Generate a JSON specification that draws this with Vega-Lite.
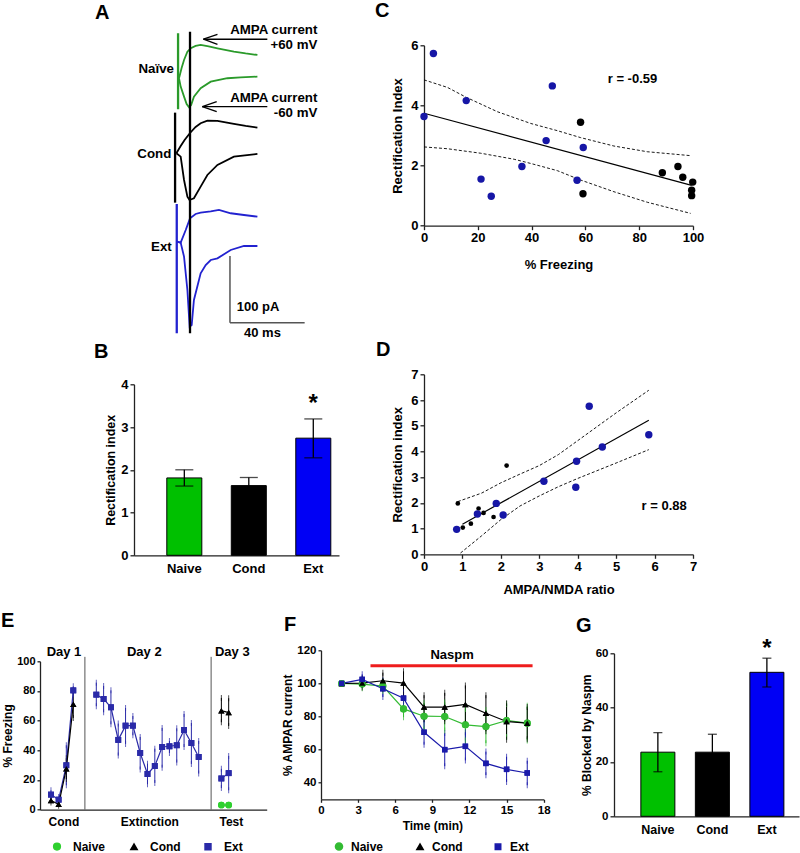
{
"$schema": "https://vega.github.io/schema/vega-lite/v6.json",
"autosize": {"type": "none"},
"padding": {"left": 40, "top": 45.3, "right": 760, "bottom": 807.7},
"background": "white",
"config": {
  "font": "Liberation Sans",
  "view": {"stroke": null},
  "axis": {"labelFont": "Liberation Sans", "titleFont": "Liberation Sans", "labelFontWeight": "bold", "titleFontWeight": "bold", "labelFontSize": 13, "titleFontSize": 13, "labelColor": "#000", "titleColor": "#000", "domainColor": "#222", "tickColor": "#222", "domainWidth": 1.3, "tickWidth": 1.3, "tickSize": 4, "grid": false, "labelPadding": 2, "labelFlush": false, "labelOverlap": false},
  "title": {"font": "Liberation Sans", "fontSize": 20, "fontWeight": "bold", "anchor": "start", "frame": "group", "color": "#000"},
  "text": {"font": "Liberation Sans", "fontWeight": "bold", "fontSize": 13, "color": "#000"}
},
"datasets": {
  "none": [],
  "E": [
    {"x":1.5,"g":"Ext","d":1,"m":10.1,"lo":7.2,"hi":13.0},
    {"x":2.55,"g":"Ext","d":1,"m":6.7,"lo":4.9,"hi":8.5},
    {"x":3.6,"g":"Ext","d":1,"m":29.9,"lo":16.4,"hi":43.4},
    {"x":4.55,"g":"Ext","d":1,"m":80.4,"lo":77.8,"hi":83.1},
    {"x":1.5,"g":"Cond","d":1,"m":6.1,"lo":4.8,"hi":7.4},
    {"x":2.55,"g":"Cond","d":1,"m":3.6,"lo":2.6,"hi":4.6},
    {"x":3.6,"g":"Cond","d":1,"m":27.6,"lo":20.6,"hi":34.6},
    {"x":4.55,"g":"Cond","d":1,"m":71.0,"lo":61.8,"hi":80.2},
    {"x":7.7,"g":"Ext","d":2,"m":77.5,"lo":69.7,"hi":85.6},
    {"x":8.7,"g":"Ext","d":2,"m":74.6,"lo":65.6,"hi":83.4},
    {"x":9.7,"g":"Ext","d":2,"m":69.0,"lo":57.5,"hi":80.4},
    {"x":10.7,"g":"Ext","d":2,"m":47.0,"lo":36.4,"hi":58.0},
    {"x":11.7,"g":"Ext","d":2,"m":56.6,"lo":44.3,"hi":68.5},
    {"x":12.7,"g":"Ext","d":2,"m":56.6,"lo":50.1,"hi":63.1},
    {"x":13.7,"g":"Ext","d":2,"m":38.2,"lo":27.0,"hi":49.0},
    {"x":14.7,"g":"Ext","d":2,"m":24.0,"lo":17.1,"hi":31.0},
    {"x":15.7,"g":"Ext","d":2,"m":29.4,"lo":18.0,"hi":41.1},
    {"x":16.7,"g":"Ext","d":2,"m":42.2,"lo":28.3,"hi":55.1},
    {"x":17.7,"g":"Ext","d":2,"m":42.7,"lo":38.2,"hi":46.3},
    {"x":18.7,"g":"Ext","d":2,"m":43.4,"lo":31.7,"hi":54.8},
    {"x":19.7,"g":"Ext","d":2,"m":53.7,"lo":42.2,"hi":64.5},
    {"x":20.7,"g":"Ext","d":2,"m":44.9,"lo":30.8,"hi":58.4},
    {"x":21.7,"g":"Ext","d":2,"m":35.5,"lo":24.3,"hi":46.3},
    {"x":24.8,"g":"Ext","d":3,"m":21.0,"lo":14.5,"hi":27.5},
    {"x":25.8,"g":"Ext","d":3,"m":24.6,"lo":13.0,"hi":36.2},
    {"x":24.8,"g":"Cond","d":3,"m":66.7,"lo":58.9,"hi":75.3},
    {"x":25.8,"g":"Cond","d":3,"m":65.4,"lo":56.4,"hi":75.1},
    {"x":24.8,"g":"Naive","d":3,"m":3.1},
    {"x":25.8,"g":"Naive","d":3,"m":3.1}
  ],
  "F": [
    {"t":1.67,"g":"Naive","m":100,"lo":100,"hi":100},
    {"t":3.33,"g":"Naive","m":99.6,"lo":97.1,"hi":102.1},
    {"t":5,"g":"Naive","m":98.4,"lo":95.4,"hi":101.4},
    {"t":6.67,"g":"Naive","m":84.6,"lo":79.6,"hi":89.6},
    {"t":8.33,"g":"Naive","m":80.2,"lo":72.2,"hi":88.2},
    {"t":10,"g":"Naive","m":80.0,"lo":71.5,"hi":88.5},
    {"t":11.67,"g":"Naive","m":75.0,"lo":65.5,"hi":84.5},
    {"t":13.33,"g":"Naive","m":73.9,"lo":63.9,"hi":83.9},
    {"t":15,"g":"Naive","m":77.6,"lo":67.6,"hi":87.6},
    {"t":16.67,"g":"Naive","m":76.0,"lo":65.5,"hi":86.5},
    {"t":1.67,"g":"Cond","m":100,"lo":100,"hi":100},
    {"t":3.33,"g":"Cond","m":100.2,"lo":97.5,"hi":102.9},
    {"t":5,"g":"Cond","m":101.6,"lo":96.7,"hi":106.5},
    {"t":6.67,"g":"Cond","m":100.2,"lo":93.1,"hi":107.3},
    {"t":8.33,"g":"Cond","m":85.7,"lo":78.5,"hi":92.9},
    {"t":10,"g":"Cond","m":85.7,"lo":77.1,"hi":94.3},
    {"t":11.67,"g":"Cond","m":87.3,"lo":75.8,"hi":98.8},
    {"t":13.33,"g":"Cond","m":82.0,"lo":71.1,"hi":92.9},
    {"t":15,"g":"Cond","m":77.0,"lo":66.0,"hi":88.0},
    {"t":16.67,"g":"Cond","m":76.0,"lo":66.3,"hi":85.7},
    {"t":1.67,"g":"Ext","m":100,"lo":100,"hi":100},
    {"t":3.33,"g":"Ext","m":102.4,"lo":99.3,"hi":105.5},
    {"t":5,"g":"Ext","m":96.8,"lo":91.8,"hi":101.8},
    {"t":6.67,"g":"Ext","m":91.1,"lo":87.5,"hi":94.7},
    {"t":8.33,"g":"Ext","m":70.5,"lo":63.0,"hi":78.0},
    {"t":10,"g":"Ext","m":60.0,"lo":50.0,"hi":70.0},
    {"t":11.67,"g":"Ext","m":62.0,"lo":53.5,"hi":70.5},
    {"t":13.33,"g":"Ext","m":51.7,"lo":44.6,"hi":58.8},
    {"t":15,"g":"Ext","m":48.1,"lo":40.5,"hi":55.7},
    {"t":16.67,"g":"Ext","m":45.9,"lo":38.5,"hi":53.3}
  ]
},
"spacing": 0,
"bounds": "flush",
"resolve": {"scale": {"color": "independent", "shape": "independent", "size": "independent"}, "legend": {"color": "independent", "shape": "independent", "size": "independent"}},
"vconcat": [
 {
  "spacing": 0,
  "bounds": "flush",
  "resolve": {"scale": {"color": "independent", "shape": "independent", "size": "independent"}, "legend": {"color": "independent", "shape": "independent", "size": "independent"}},
  "hconcat": [
   {"width": 93.3, "height": 1, "data": {"name": "none"}, "mark": "point", "encoding": {}},
   {
    "spacing": 0,
    "bounds": "flush",
    "resolve": {"scale": {"color": "independent", "shape": "independent", "size": "independent"}, "legend": {"color": "independent", "shape": "independent", "size": "independent"}},
    "vconcat": [
     {
      "title": {"text": "A", "dx": -39, "offset": -0.5},
      "width": 205, "height": 289.7,
      "encoding": {
        "x": {"field": "ms", "type": "quantitative", "scale": {"domain": [0, 109.8], "nice": false, "zero": false}, "axis": null},
        "y": {"field": "pA", "type": "quantitative", "scale": {"domain": [0, 434.5], "nice": false, "zero": false}, "axis": null}
      },
      "layer": [
        {"data": {"values": [
          {"grp":"Naive","v":"+60","ms":24.1,"pA":385.1},{"grp":"Naive","v":"+60","ms":25.5,"pA":400.5},{"grp":"Naive","v":"+60","ms":26.8,"pA":412.5},{"grp":"Naive","v":"+60","ms":28.6,"pA":425},{"grp":"Naive","v":"+60","ms":30.4,"pA":430},{"grp":"Naive","v":"+60","ms":33.0,"pA":433.5},{"grp":"Naive","v":"+60","ms":35.7,"pA":435},{"grp":"Naive","v":"+60","ms":40.0,"pA":432.8},{"grp":"Naive","v":"+60","ms":44.7,"pA":430},{"grp":"Naive","v":"+60","ms":53.5,"pA":425},{"grp":"Naive","v":"+60","ms":59.8,"pA":422.3},{"grp":"Naive","v":"+60","ms":66.1,"pA":420},
          {"grp":"Naive","v":"-60","ms":24.1,"pA":385.1},{"grp":"Naive","v":"-60","ms":25.0,"pA":372.5},{"grp":"Naive","v":"-60","ms":26.8,"pA":357.5},{"grp":"Naive","v":"-60","ms":28.2,"pA":346.5},{"grp":"Naive","v":"-60","ms":29.5,"pA":341.6},{"grp":"Naive","v":"-60","ms":30.6,"pA":345},{"grp":"Naive","v":"-60","ms":32.1,"pA":357.5},{"grp":"Naive","v":"-60","ms":35.7,"pA":370.1},{"grp":"Naive","v":"-60","ms":41.1,"pA":380},{"grp":"Naive","v":"-60","ms":50.0,"pA":385.1},{"grp":"Naive","v":"-60","ms":57.1,"pA":386.3},{"grp":"Naive","v":"-60","ms":66.1,"pA":387.5},
          {"grp":"Cond","v":"+60","ms":22.7,"pA":272.6},{"grp":"Cond","v":"+60","ms":25.0,"pA":283.5},{"grp":"Cond","v":"+60","ms":27.1,"pA":292.5},{"grp":"Cond","v":"+60","ms":30.0,"pA":303},{"grp":"Cond","v":"+60","ms":33.0,"pA":312},{"grp":"Cond","v":"+60","ms":35.7,"pA":317.6},{"grp":"Cond","v":"+60","ms":39.3,"pA":321.5},{"grp":"Cond","v":"+60","ms":44.7,"pA":321},{"grp":"Cond","v":"+60","ms":53.5,"pA":316.5},{"grp":"Cond","v":"+60","ms":59.8,"pA":313.5},{"grp":"Cond","v":"+60","ms":66.1,"pA":311},
          {"grp":"Cond","v":"-60","ms":22.7,"pA":272.6},{"grp":"Cond","v":"-60","ms":25.0,"pA":267.5},{"grp":"Cond","v":"-60","ms":26.8,"pA":232.5},{"grp":"Cond","v":"-60","ms":28.6,"pA":207.5},{"grp":"Cond","v":"-60","ms":29.7,"pA":202.5},{"grp":"Cond","v":"-60","ms":32.1,"pA":205},{"grp":"Cond","v":"-60","ms":35.7,"pA":222.5},{"grp":"Cond","v":"-60","ms":39.3,"pA":240},{"grp":"Cond","v":"-60","ms":44.7,"pA":255},{"grp":"Cond","v":"-60","ms":53.5,"pA":267.5},{"grp":"Cond","v":"-60","ms":66.1,"pA":271.5},
          {"grp":"Ext","v":"+60","ms":22.9,"pA":140},{"grp":"Ext","v":"+60","ms":25.0,"pA":138.5},{"grp":"Ext","v":"+60","ms":27.7,"pA":157.5},{"grp":"Ext","v":"+60","ms":30.0,"pA":175},{"grp":"Ext","v":"+60","ms":33.0,"pA":181.5},{"grp":"Ext","v":"+60","ms":35.7,"pA":183.5},{"grp":"Ext","v":"+60","ms":41.1,"pA":185.3},{"grp":"Ext","v":"+60","ms":45.5,"pA":187.5},{"grp":"Ext","v":"+60","ms":51.8,"pA":182.6},{"grp":"Ext","v":"+60","ms":58.9,"pA":180},{"grp":"Ext","v":"+60","ms":66.1,"pA":177.5},
          {"grp":"Ext","v":"-60","ms":22.9,"pA":140},{"grp":"Ext","v":"-60","ms":25.0,"pA":138.5},{"grp":"Ext","v":"-60","ms":26.8,"pA":117.5},{"grp":"Ext","v":"-60","ms":28.6,"pA":67.5},{"grp":"Ext","v":"-60","ms":29.8,"pA":12.5},{"grp":"Ext","v":"-60","ms":30.9,"pA":15},{"grp":"Ext","v":"-60","ms":32.1,"pA":52.5},{"grp":"Ext","v":"-60","ms":35.7,"pA":92.6},{"grp":"Ext","v":"-60","ms":38.4,"pA":105},{"grp":"Ext","v":"-60","ms":41.1,"pA":112.5},{"grp":"Ext","v":"-60","ms":44.7,"pA":115},{"grp":"Ext","v":"-60","ms":51.8,"pA":127.5},{"grp":"Ext","v":"-60","ms":58.9,"pA":133.5},{"grp":"Ext","v":"-60","ms":66.1,"pA":133.5}
        ]},
        "mark": {"type": "line", "strokeWidth": 1.8},
        "encoding": {"color": {"field": "grp", "type": "nominal", "scale": {"domain": ["Naive", "Cond", "Ext"], "range": ["#2a9a2a", "#000000", "#2222d0"]}, "legend": null}, "detail": {"field": "v"}}},
        {"data": {"values": [
          {"grp":"Naive","ms":23.6,"pA":338.6,"ms2":23.6,"pA2":452.6},
          {"grp":"Cond","ms":22.0,"pA":198.5,"ms2":22.0,"pA2":333.5},
          {"grp":"Ext","ms":22.9,"pA":2.6,"ms2":22.9,"pA2":196.5},
          {"grp":"Cond","ms":30.0,"pA":2.6,"ms2":30.0,"pA2":455}
        ]},
        "mark": {"type": "rule", "strokeWidth": 2.3},
        "encoding": {"x2": {"field": "ms2"}, "y2": {"field": "pA2"}, "color": {"field": "grp", "type": "nominal", "legend": null}}},
        {"data": {"values": [
          {"ms":51.4,"pA":18.5,"ms2":51.4,"pA2":118.5},
          {"ms":51.4,"pA":18.5,"ms2":91.4,"pA2":18.5}
        ]},
        "mark": {"type": "rule", "strokeWidth": 1.5, "color": "#555"},
        "encoding": {"x2": {"field": "ms2"}, "y2": {"field": "pA2"}}},
        {"data": {"values": [
          {"ms":37.2,"pA":443.6,"ms2":71.4,"pA2":443.6},
          {"ms":37.2,"pA":443.6,"ms2":44.7,"pA2":451},
          {"ms":37.2,"pA":443.6,"ms2":44.7,"pA2":436},
          {"ms":36.6,"pA":342.5,"ms2":71.4,"pA2":342.5},
          {"ms":36.6,"pA":342.5,"ms2":44.3,"pA2":350},
          {"ms":36.6,"pA":342.5,"ms2":44.3,"pA2":335}
        ]},
        "mark": {"type": "rule", "strokeWidth": 1.3, "color": "#000"},
        "encoding": {"x2": {"field": "ms2"}, "y2": {"field": "pA2"}}},
        {"data": {"values": [
          {"ms":98.2,"pA":457.5,"label":"AMPA current"},
          {"ms":98.2,"pA":435,"label":"+60 mV"},
          {"ms":98.2,"pA":355,"label":"AMPA current"},
          {"ms":98.2,"pA":332.5,"label":"-60 mV"},
          {"ms":21.4,"pA":399,"label":"Naïve"},
          {"ms":20.0,"pA":271.5,"label":"Cond"},
          {"ms":20.2,"pA":132.5,"label":"Ext"}
        ]},
        "mark": {"type": "text", "align": "right", "fontSize": 13.3},
        "encoding": {"text": {"field": "label"}}},
        {"data": {"values": [{"ms":55,"pA":42.5,"label":"100 pA"}]},
        "mark": {"type": "text", "align": "left", "fontSize": 13},
        "encoding": {"text": {"field": "label"}}},
        {"data": {"values": [{"ms":68.8,"pA":2.5,"label":"40 ms"}]},
        "mark": {"type": "text", "align": "center", "fontSize": 13},
        "encoding": {"text": {"field": "label"}}}
      ]
     },
     {"width": 1, "height": 48.3, "data": {"name": "none"}, "mark": "point", "encoding": {}},
     {
      "title": {"text": "B", "dx": -40, "offset": 16.5},
      "width": 205, "height": 171,
      "data": {"values": [{"g":"Naive","m":1.81,"lo":1.62,"hi":2.0},{"g":"Cond","m":1.63,"lo":1.44,"hi":1.82},{"g":"Ext","m":2.74,"lo":2.28,"hi":3.19}]},
      "encoding": {"x": {"field": "g", "type": "nominal", "sort": ["Naive", "Cond", "Ext"], "scale": {"paddingInner": 0.457, "paddingOuter": 0.318, "align": 0.8}, "axis": {"title": null, "ticks": false, "labelAngle": 0, "labelFontSize": 13, "labelPadding": 7}}},
      "layer": [
        {"mark": {"type": "bar", "stroke": "#000", "strokeWidth": 1},
        "encoding": {"y": {"field": "m", "type": "quantitative", "scale": {"domain": [0, 4], "nice": false}, "axis": {"title": "Rectification index", "values": [0, 1, 2, 3, 4], "format": "d", "titleFontSize": 12.5, "titlePadding": 3}},
          "color": {"field": "g", "type": "nominal", "scale": {"domain": ["Naive", "Cond", "Ext"], "range": ["#00c000", "#000000", "#0000f5"]}, "legend": null}}},
        {"mark": {"type": "rule", "color": "#000", "strokeWidth": 1.3}, "encoding": {"y": {"field": "lo", "type": "quantitative"}, "y2": {"field": "hi"}}},
        {"mark": {"type": "tick", "color": "#000", "size": 18, "thickness": 1.3}, "encoding": {"y": {"field": "hi", "type": "quantitative"}}},
        {"mark": {"type": "tick", "color": "#000", "size": 18, "thickness": 1.3}, "encoding": {"y": {"field": "lo", "type": "quantitative"}}},
        {"data": {"values": [{"g":"Ext","y":3.55,"label":"*"}]}, "mark": {"type": "text", "fontSize": 24}, "encoding": {"y": {"field": "y", "type": "quantitative"}, "text": {"field": "label"}}}
      ]
     }
    ]
   },
   {"width": 290, "height": 1, "data": {"name": "none"}, "mark": "point", "encoding": {}},
   {
    "spacing": 0,
    "bounds": "flush",
    "resolve": {"scale": {"color": "independent", "shape": "independent", "size": "independent"}, "legend": {"color": "independent", "shape": "independent", "size": "independent"}},
    "vconcat": [
     {
      "title": {"text": "C", "dx": -49, "offset": 18},
      "width": 269, "height": 180.4,
      "encoding": {
        "x": {"field": "x", "type": "quantitative", "scale": {"domain": [0, 100], "nice": false}, "axis": {"title": "% Freezing", "values": [0, 20, 40, 60, 80, 100], "format": "d", "titlePadding": 14}},
        "y": {"field": "y", "type": "quantitative", "scale": {"domain": [0, 6], "nice": false}, "axis": {"title": "Rectification Index", "values": [0, 2, 4, 6], "format": "d", "titlePadding": 6}}
      },
      "layer": [
        {"data": {"values": [
          {"b":"upper","x":0,"y":4.85},{"b":"upper","x":8.7,"y":4.6},{"b":"upper","x":15.7,"y":4.27},{"b":"upper","x":27.3,"y":3.79},{"b":"upper","x":39.7,"y":3.4},{"b":"upper","x":49.6,"y":3.16},{"b":"upper","x":58.2,"y":2.93},{"b":"upper","x":70.6,"y":2.65},{"b":"upper","x":83.0,"y":2.46},{"b":"upper","x":99.1,"y":2.33},
          {"b":"lower","x":0,"y":2.62},{"b":"lower","x":8.7,"y":2.56},{"b":"lower","x":21.1,"y":2.41},{"b":"lower","x":33.5,"y":2.21},{"b":"lower","x":39.7,"y":2.07},{"b":"lower","x":49.6,"y":1.83},{"b":"lower","x":58.2,"y":1.52},{"b":"lower","x":70.6,"y":1.13},{"b":"lower","x":83.0,"y":0.78},{"b":"lower","x":99.1,"y":0.41}
        ]},
        "mark": {"type": "line", "color": "#000", "strokeWidth": 0.9, "strokeDash": [3, 2]},
        "encoding": {"detail": {"field": "b"}}},
        {"data": {"values": [{"x":0,"y":3.74},{"x":99.5,"y":1.34}]},
        "mark": {"type": "line", "color": "#000", "strokeWidth": 1.2},
        "encoding": {}},
        {"data": {"values": [
          {"g":"Ext","x":0,"y":3.63},{"g":"Ext","x":3.5,"y":5.73},{"g":"Ext","x":15.7,"y":4.16},{"g":"Ext","x":21.2,"y":1.55},{"g":"Ext","x":25.0,"y":0.98},{"g":"Ext","x":36.4,"y":1.97},{"g":"Ext","x":45.4,"y":2.83},{"g":"Ext","x":47.7,"y":4.65},{"g":"Ext","x":56.9,"y":1.51},{"g":"Ext","x":59.2,"y":2.6},
          {"g":"Cond","x":58.2,"y":3.44},{"g":"Cond","x":59.1,"y":1.06},{"g":"Cond","x":88.6,"y":1.76},{"g":"Cond","x":94.4,"y":1.97},{"g":"Cond","x":96.2,"y":1.61},{"g":"Cond","x":99.9,"y":1.45},{"g":"Cond","x":99.5,"y":1.18},{"g":"Cond","x":99.5,"y":1.0}
        ]},
        "mark": {"type": "circle", "size": 55, "opacity": 1},
        "encoding": {"color": {"field": "g", "type": "nominal", "scale": {"domain": ["Ext", "Cond"], "range": ["#1616a6", "#000000"]}, "legend": null}}},
        {"data": {"values": [{"x":77.5,"y":4.87,"label":"r = -0.59"}]},
        "mark": {"type": "text", "fontSize": 13},
        "encoding": {"text": {"field": "label"}}}
      ]
     },
     {"width": 1, "height": 147.6, "data": {"name": "none"}, "mark": "point", "encoding": {}},
     {
      "title": {"text": "D", "dx": -48, "offset": 8},
      "width": 269, "height": 180,
      "encoding": {
        "x": {"field": "x", "type": "quantitative", "scale": {"domain": [0, 7], "nice": false}, "axis": {"title": "AMPA/NMDA ratio", "values": [0, 1, 2, 3, 4, 5, 6, 7], "format": "d", "titlePadding": 10}},
        "y": {"field": "y", "type": "quantitative", "scale": {"domain": [0, 7], "nice": false}, "axis": {"title": "Rectification index", "values": [0, 1, 2, 3, 4, 5, 6, 7], "format": "d", "titlePadding": 6}}
      },
      "layer": [
        {"data": {"values": [
          {"b":"upper","x":0.88,"y":2.05},{"b":"upper","x":1.5,"y":2.38},{"b":"upper","x":2.0,"y":2.78},{"b":"upper","x":2.5,"y":3.12},{"b":"upper","x":3.0,"y":3.45},{"b":"upper","x":3.5,"y":3.88},{"b":"upper","x":4.0,"y":4.42},{"b":"upper","x":4.5,"y":4.96},{"b":"upper","x":5.0,"y":5.5},{"b":"upper","x":5.85,"y":6.38},
          {"b":"lower","x":0.95,"y":0.05},{"b":"lower","x":1.5,"y":0.72},{"b":"lower","x":2.0,"y":1.35},{"b":"lower","x":2.5,"y":1.88},{"b":"lower","x":3.0,"y":2.27},{"b":"lower","x":3.5,"y":2.63},{"b":"lower","x":4.0,"y":2.95},{"b":"lower","x":4.5,"y":3.25},{"b":"lower","x":5.0,"y":3.55},{"b":"lower","x":5.85,"y":4.07}
        ]},
        "mark": {"type": "line", "color": "#000", "strokeWidth": 0.9, "strokeDash": [3, 2]},
        "encoding": {"detail": {"field": "b"}}},
        {"data": {"values": [{"x":1.0,"y":1.17},{"x":5.85,"y":5.21}]},
        "mark": {"type": "line", "color": "#000", "strokeWidth": 1.2},
        "encoding": {}},
        {"data": {"values": [
          {"g":"Cond","x":0.88,"y":1.98},{"g":"Cond","x":1.01,"y":1.04},{"g":"Cond","x":1.22,"y":1.19},{"g":"Cond","x":1.42,"y":1.78},{"g":"Cond","x":1.55,"y":1.61},{"g":"Cond","x":1.81,"y":1.45},{"g":"Cond","x":2.15,"y":3.45},
          {"g":"Ext","x":0.85,"y":0.97},{"g":"Ext","x":1.39,"y":1.57},{"g":"Ext","x":1.88,"y":1.98},{"g":"Ext","x":2.06,"y":1.53},{"g":"Ext","x":3.12,"y":2.84},{"g":"Ext","x":3.95,"y":2.61},{"g":"Ext","x":3.97,"y":3.62},{"g":"Ext","x":4.3,"y":5.76},{"g":"Ext","x":4.64,"y":4.17},{"g":"Ext","x":5.85,"y":4.65}
        ]},
        "mark": {"type": "circle", "opacity": 1},
        "encoding": {"color": {"field": "g", "type": "nominal", "scale": {"domain": ["Ext", "Cond"], "range": ["#1616a6", "#000000"]}, "legend": null},
          "size": {"field": "g", "type": "nominal", "scale": {"domain": ["Ext", "Cond"], "range": [55, 22]}, "legend": null}}},
        {"data": {"values": [{"x":6.25,"y":1.88,"label":"r = 0.88"}]},
        "mark": {"type": "text", "fontSize": 13},
        "encoding": {"text": {"field": "label"}}}
      ]
     }
    ]
   }
  ]
 },
 {"width": 1, "height": 604.7, "data": {"name": "none"}, "mark": "point", "encoding": {}},
 {
  "spacing": 0,
  "bounds": "flush",
  "resolve": {"scale": {"color": "independent", "shape": "independent", "size": "independent"}, "legend": {"color": "independent", "shape": "independent", "size": "independent"}},
  "hconcat": [
   {
    "spacing": 0,
    "bounds": "flush",
    "resolve": {"scale": {"color": "independent", "shape": "independent", "size": "independent"}, "legend": {"color": "independent", "shape": "independent", "size": "independent"}},
    "vconcat": [
     {"width": 1, "height": 11, "data": {"name": "none"}, "mark": "point", "encoding": {}},
     {
      "title": {"text": "E", "dx": -39, "offset": 15},
      "width": 226.7, "height": 148.3,
      "data": {"name": "E"},
      "encoding": {"x": {"field": "x", "type": "quantitative", "scale": {"domain": [0, 31], "nice": false}, "axis": {"title": null, "values": [3.2, 14.95, 26.1], "tickCount": 20, "ticks": false, "tickSize": 0, "labelFontSize": 12, "labelPadding": 7, "labelExpr": "datum.value < 10 ? 'Cond' : (datum.value < 20 ? 'Extinction' : 'Test')"}}},
      "layer": [
        {"mark": {"type": "point", "filled": true, "opacity": 1},
        "encoding": {"y": {"field": "m", "type": "quantitative", "scale": {"domain": [0, 100], "nice": false}, "axis": {"title": "% Freezing", "values": [0, 20, 40, 60, 80, 100], "tickCount": 20, "format": "d", "labelFontSize": 11, "titleFontSize": 12, "titlePadding": 2.5, "tickSize": 3}},
          "color": {"field": "g", "type": "nominal", "scale": {"domain": ["Naive", "Cond", "Ext"], "range": ["#2fd02f", "#000000", "#2a2aa8"]}, "legend": {"title": null, "orient": "bottom", "direction": "horizontal", "offset": 1, "padding": 11, "labelFontSize": 12, "labelFontWeight": "bold", "labelColor": "#000", "symbolSize": 45, "labelOffset": 10, "columnPadding": 21}},
          "shape": {"field": "g", "type": "nominal", "scale": {"domain": ["Naive", "Cond", "Ext"], "range": ["circle", "triangle-up", "square"]}, "legend": {"title": null, "orient": "bottom", "direction": "horizontal", "offset": 1, "padding": 11, "labelFontSize": 12, "labelFontWeight": "bold", "labelColor": "#000", "symbolSize": 45, "labelOffset": 10, "columnPadding": 21}},
          "size": {"field": "g", "type": "nominal", "scale": {"domain": ["Naive", "Cond", "Ext"], "range": [45, 35, 18]}, "legend": null}}},
        {"data": {"values": [{"x": 6.14}, {"x": 23.4}]},
        "mark": {"type": "rule", "color": "#555", "strokeWidth": 1},
        "encoding": {"y": {"datum": 0, "type": "quantitative"}, "y2": {"datum": 103}}},
        {"mark": {"type": "rule", "strokeWidth": 1},
        "encoding": {"y": {"field": "lo", "type": "quantitative"}, "y2": {"field": "hi"}, "color": {"field": "g", "type": "nominal", "legend": null}}},
        {"mark": {"type": "tick", "size": 6, "thickness": 1},
        "encoding": {"y": {"field": "hi", "type": "quantitative"}, "color": {"field": "g", "type": "nominal", "legend": null}}},
        {"mark": {"type": "tick", "size": 6, "thickness": 1},
        "encoding": {"y": {"field": "lo", "type": "quantitative"}, "color": {"field": "g", "type": "nominal", "legend": null}}},
        {"mark": {"type": "line", "strokeWidth": 1.2},
        "encoding": {"y": {"field": "m", "type": "quantitative"}, "color": {"field": "g", "type": "nominal", "legend": null}, "detail": {"field": "d"}}},
        {"mark": {"type": "point", "filled": true, "opacity": 1},
        "encoding": {"y": {"field": "m", "type": "quantitative"}, "color": {"field": "g", "type": "nominal", "legend": null}, "shape": {"field": "g", "type": "nominal", "legend": null}, "size": {"field": "g", "type": "nominal", "legend": null}}},
        {"data": {"values": [{"x":3.28,"label":"Day 1"},{"x":14.26,"label":"Day 2"},{"x":26.3,"label":"Day 3"}]},
        "mark": {"type": "text", "fontSize": 13},
        "encoding": {"y": {"datum": 106.3, "type": "quantitative"}, "text": {"field": "label"}}}
      ]
     }
    ]
   },
   {"width": 280.7, "height": 1, "data": {"name": "none"}, "mark": "point", "encoding": {}},
   {
    "title": {"text": "F", "dx": -37, "offset": 9},
    "width": 222.7, "height": 149,
    "data": {"name": "F"},
    "encoding": {"x": {"field": "t", "type": "quantitative", "scale": {"domain": [0, 18], "nice": false}, "axis": {"title": "Time (min)", "values": [0, 3, 6, 9, 12, 15, 18], "tickCount": 20, "format": "d", "labelFontSize": 11.5, "titleFontSize": 12, "titlePadding": 5, "tickSize": 3}}},
    "layer": [
      {"mark": {"type": "point", "filled": true, "opacity": 1},
      "encoding": {"y": {"field": "m", "type": "quantitative", "scale": {"domain": [30, 120], "nice": false, "zero": false}, "axis": {"title": "% AMPAR current", "values": [40, 60, 80, 100, 120], "tickCount": 20, "format": "d", "labelFontSize": 11.5, "titleFontSize": 12, "titlePadding": 2, "tickSize": 3}},
        "color": {"field": "g", "type": "nominal", "scale": {"domain": ["Naive", "Cond", "Ext"], "range": ["#33bb33", "#000000", "#1a1aaa"]}, "legend": {"title": null, "orient": "bottom", "direction": "horizontal", "offset": -4.5, "padding": 12, "labelFontSize": 12, "labelFontWeight": "bold", "labelColor": "#000", "symbolSize": 45, "labelOffset": 6, "columnPadding": 29}},
        "shape": {"field": "g", "type": "nominal", "scale": {"domain": ["Naive", "Cond", "Ext"], "range": ["circle", "triangle-up", "square"]}, "legend": {"title": null, "orient": "bottom", "direction": "horizontal", "offset": -4.5, "padding": 12, "labelFontSize": 12, "labelFontWeight": "bold", "labelColor": "#000", "symbolSize": 45, "labelOffset": 6, "columnPadding": 29}},
        "size": {"field": "g", "type": "nominal", "scale": {"domain": ["Naive", "Cond", "Ext"], "range": [50, 30, 55]}, "legend": null}}},
      {"mark": {"type": "rule", "strokeWidth": 1},
      "encoding": {"y": {"field": "lo", "type": "quantitative"}, "y2": {"field": "hi"}, "color": {"field": "g", "type": "nominal", "legend": null}}},
      {"mark": {"type": "tick", "size": 6, "thickness": 1},
      "encoding": {"y": {"field": "hi", "type": "quantitative"}, "color": {"field": "g", "type": "nominal", "legend": null}}},
      {"mark": {"type": "tick", "size": 6, "thickness": 1},
      "encoding": {"y": {"field": "lo", "type": "quantitative"}, "color": {"field": "g", "type": "nominal", "legend": null}}},
      {"mark": {"type": "line", "strokeWidth": 1.2},
      "encoding": {"y": {"field": "m", "type": "quantitative"}, "color": {"field": "g", "type": "nominal", "legend": null}}},
      {"mark": {"type": "point", "filled": true, "opacity": 1},
      "encoding": {"y": {"field": "m", "type": "quantitative"}, "color": {"field": "g", "type": "nominal", "legend": null}, "shape": {"field": "g", "type": "nominal", "legend": null}, "size": {"field": "g", "type": "nominal", "legend": null}}},
      {"data": {"values": [{"t":4.0,"t2":17.1,"y":110.7}]},
      "mark": {"type": "rule", "color": "#ee1c1c", "strokeWidth": 3},
      "encoding": {"x2": {"field": "t2"}, "y": {"field": "y", "type": "quantitative"}}},
      {"data": {"values": [{"t":10.6,"y":117,"label":"Naspm"}]},
      "mark": {"type": "text", "fontSize": 13},
      "encoding": {"y": {"field": "y", "type": "quantitative"}, "text": {"field": "label"}}}
    ]
   },
   {"width": 70, "height": 1, "data": {"name": "none"}, "mark": "point", "encoding": {}},
   {
    "spacing": 0,
    "bounds": "flush",
    "resolve": {"scale": {"color": "independent", "shape": "independent", "size": "independent"}, "legend": {"color": "independent", "shape": "independent", "size": "independent"}},
    "vconcat": [
     {"width": 1, "height": 2.7, "data": {"name": "none"}, "mark": "point", "encoding": {}},
     {
      "title": {"text": "G", "dx": -38, "offset": 1},
      "width": 185, "height": 163,
      "data": {"values": [{"g":"Naive","m":23.6,"lo":16.4,"hi":30.8},{"g":"Cond","m":23.6,"lo":17.0,"hi":30.2},{"g":"Ext","m":53.0,"lo":47.6,"hi":58.2}]},
      "encoding": {"x": {"field": "g", "type": "nominal", "sort": ["Naive", "Cond", "Ext"], "scale": {"paddingInner": 0.376, "paddingOuter": 0.385, "align": 0.64}, "axis": {"title": null, "ticks": false, "labelAngle": 0, "labelFontSize": 12.5, "labelPadding": 7}}},
      "layer": [
        {"mark": {"type": "bar", "stroke": "#000", "strokeWidth": 1},
        "encoding": {"y": {"field": "m", "type": "quantitative", "scale": {"domain": [0, 60], "nice": false}, "axis": {"title": "% Blocked by Naspm", "values": [0, 20, 40, 60], "format": "d", "labelFontSize": 11.5, "titleFontSize": 12, "titlePadding": 2}},
          "color": {"field": "g", "type": "nominal", "scale": {"domain": ["Naive", "Cond", "Ext"], "range": ["#00c000", "#000000", "#0000f5"]}, "legend": null}}},
        {"mark": {"type": "rule", "color": "#000", "strokeWidth": 1.3}, "encoding": {"y": {"field": "lo", "type": "quantitative"}, "y2": {"field": "hi"}}},
        {"mark": {"type": "tick", "color": "#000", "size": 9, "thickness": 1.3}, "encoding": {"y": {"field": "hi", "type": "quantitative"}}},
        {"mark": {"type": "tick", "color": "#000", "size": 9, "thickness": 1.3}, "encoding": {"y": {"field": "lo", "type": "quantitative"}}},
        {"data": {"values": [{"g":"Ext","y":61.4,"label":"*"}]}, "mark": {"type": "text", "fontSize": 24}, "encoding": {"y": {"field": "y", "type": "quantitative"}, "text": {"field": "label"}}}
      ]
     }
    ]
   }
  ]
 }
]
}
